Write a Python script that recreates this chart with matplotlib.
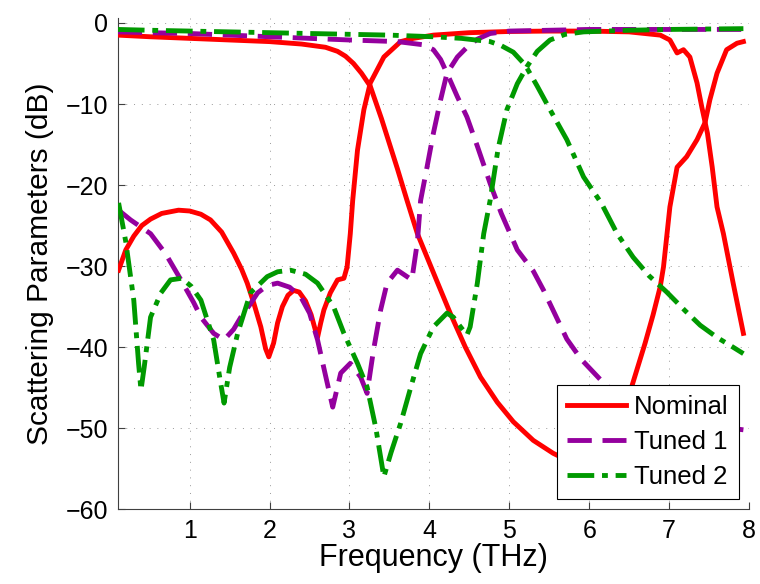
import matplotlib.pyplot as plt

plt.rcParams['font.family'] = ['Liberation Sans', 'DejaVu Sans']

# Nominal
nom_s21_f = [0.1, 0.5, 1.0, 1.5, 2.0, 2.4, 2.7, 2.85, 2.95, 3.05, 3.15, 3.26, 3.4, 3.6, 3.72, 3.85, 4.1,
             4.26, 4.45, 4.64, 4.85, 5.05, 5.3, 5.55, 5.8, 6.0, 6.2, 6.4, 6.55, 6.7, 6.8, 6.89, 6.93,
             7.01, 7.1, 7.22, 7.35, 7.45, 7.51, 7.6, 7.72, 7.85, 7.93]
nom_s21_db = [-1.5, -1.7, -1.9, -2.1, -2.3, -2.6, -3.0, -3.5, -4.1, -5.0, -6.2, -7.8, -11.8, -18.0, -21.9, -26.0, -32.0,
              -35.8, -40.0, -43.7, -46.8, -49.2, -51.5, -53.1, -54.3, -54.2, -52.6, -49.2, -44.3, -39.5, -36.0, -32.5, -30.1,
              -22.7, -17.8, -16.5, -14.4, -12.3, -9.5, -6.2, -3.3, -2.5, -2.3]
nom_s11_f = [0.11, 0.2, 0.3, 0.4, 0.51, 0.65, 0.86, 1.0, 1.14, 1.26, 1.4, 1.55, 1.65, 1.72, 1.8, 1.89, 1.95,
             1.99, 2.05, 2.1, 2.16, 2.23, 2.3, 2.37, 2.45, 2.52, 2.57, 2.6, 2.64, 2.68, 2.76, 2.85, 2.93,
             2.97, 3.01, 3.04, 3.1, 3.18, 3.26, 3.43, 3.64, 3.8, 4.05, 4.5, 5.0, 5.5, 6.0, 6.5, 6.89,
             7.01, 7.1, 7.18, 7.26, 7.35, 7.41, 7.48, 7.54, 7.6, 7.68, 7.8, 7.93]
nom_s11_db = [-30.5, -28.0, -26.3, -25.0, -24.2, -23.5, -23.1, -23.2, -23.6, -24.3, -25.8, -28.4, -30.4, -32.1, -34.5, -37.5, -40.2,
              -41.2, -39.5, -37.0, -35.0, -33.6, -33.0, -33.2, -34.3, -36.0, -37.8, -38.8, -37.0, -35.4, -33.3, -31.7, -31.5,
              -30.1, -26.0, -21.9, -15.7, -10.7, -7.4, -4.2, -2.3, -1.9, -1.5, -1.2, -1.05, -1.0, -1.0, -1.1, -1.5,
              -2.1, -3.7, -3.3, -4.2, -7.4, -10.4, -13.6, -17.8, -22.7, -26.0, -32.0, -38.3]

# Tuned 1
t1_s21_f = [0.1, 0.5, 1.0, 1.5, 2.0, 2.5, 3.0, 3.6, 3.93, 4.05, 4.14, 4.22, 4.35, 4.47, 4.6, 4.76, 4.9,
            5.1, 5.3, 5.43, 5.72, 5.9, 6.14, 6.4, 6.7, 7.0, 7.3, 7.6, 7.93]
t1_s21_db = [-1.1, -1.2, -1.3, -1.5, -1.7, -1.9, -2.1, -2.3, -2.7, -3.3, -4.5, -6.2, -9.1, -11.6, -15.2, -19.8, -23.5,
             -28.0, -30.6, -33.0, -39.0, -41.5, -44.0, -46.3, -48.0, -49.0, -49.5, -49.8, -50.2]
t1_s11_f = [0.11, 0.26, 0.51, 0.7, 0.89, 1.05, 1.14, 1.3, 1.43, 1.55, 1.64, 1.75, 1.85, 1.97, 2.1, 2.25, 2.39,
            2.5, 2.6, 2.7, 2.79, 2.89, 3.01, 3.14, 3.22, 3.3, 3.39, 3.47, 3.6, 3.72, 3.78, 3.85, 3.89,
            3.97, 4.05, 4.14, 4.22, 4.35, 4.47, 4.6, 4.76, 5.0, 5.5, 6.0, 7.0, 7.93]
t1_s11_db = [-23.1, -24.3, -26.0, -28.5, -31.7, -34.5, -36.3, -38.3, -39.1, -37.8, -36.3, -34.8, -33.3, -32.4, -32.1, -32.6, -33.8,
             -35.8, -39.1, -43.5, -47.4, -43.2, -42.0, -43.7, -45.7, -40.4, -35.4, -32.1, -30.5, -31.3, -31.7, -27.0, -21.9,
             -17.8, -13.6, -9.5, -6.2, -4.2, -3.0, -2.0, -1.3, -1.0, -0.9, -0.8, -0.8, -0.8]

# Tuned 2
t2_s21_f = [0.1, 0.5, 1.0, 1.5, 2.0, 2.5, 3.0, 3.5, 4.05, 4.4, 4.76, 4.9, 5.05, 5.2, 5.35, 5.51, 5.72,
            5.93, 6.15, 6.35, 6.55, 6.75, 6.97, 7.2, 7.39, 7.6, 7.8, 7.93]
t2_s21_db = [-0.8, -0.9, -1.0, -1.1, -1.2, -1.3, -1.4, -1.5, -1.7, -1.9, -2.3, -2.8, -3.6, -5.2, -7.8, -10.7, -14.4,
             -19.0, -22.2, -26.0, -28.9, -31.2, -33.2, -35.5, -37.3, -38.8, -40.0, -40.8]
t2_s11_f = [0.11, 0.2, 0.3, 0.36, 0.39, 0.43, 0.51, 0.64, 0.76, 0.9, 1.02, 1.14, 1.3, 1.38, 1.43, 1.5, 1.6,
            1.76, 1.97, 2.1, 2.26, 2.45, 2.6, 2.8, 2.93, 3.1, 3.22, 3.33, 3.43, 3.52, 3.64, 3.78, 3.89,
            4.05, 4.22, 4.3, 4.39, 4.47, 4.51, 4.6, 4.68, 4.76, 4.86, 4.97, 5.1, 5.22, 5.35, 5.51, 5.7,
            5.93, 6.5, 7.0, 7.93]
t2_s11_db = [-22.2, -27.0, -34.2, -42.0, -45.3, -42.5, -36.3, -33.3, -31.7, -31.5, -32.5, -34.2, -39.1, -44.0, -46.9, -42.5, -38.3,
             -33.3, -31.3, -30.7, -30.5, -31.0, -32.1, -35.0, -38.3, -42.0, -44.9, -50.0, -56.0, -53.0, -49.4, -44.5, -40.8,
             -37.5, -35.8, -36.3, -37.5, -38.5, -37.5, -32.1, -26.0, -21.9, -15.5, -10.7, -7.5, -5.4, -3.5, -2.1, -1.4,
             -1.1, -0.9, -0.8, -0.7]

xticks = [1, 2, 3, 4, 5, 6, 7, 8]
yticks = [-60, -50, -40, -30, -20, -10, 0]

red = (1.0, 0.0, 0.0)
purple = (0.58, 0.0, 0.62)
green = (0.0, 0.6, 0.0)
lw = 3.5
dash = (5.0, 2.2)
dashdot = (5.5, 1.6, 1.2, 1.6)

fig = plt.figure(figsize=(7.6, 5.84), dpi=100)
ax = fig.add_axes([0.155, 0.128, 0.8305, 0.841])

ax.plot(nom_s21_f, nom_s21_db, color=red, lw=lw, label='Nominal', zorder=3)
ax.plot(nom_s11_f, nom_s11_db, color=red, lw=lw, zorder=3)
ax.plot(t1_s21_f, t1_s21_db, color=purple, lw=lw, dashes=dash, label='Tuned 1', zorder=4)
ax.plot(t1_s11_f, t1_s11_db, color=purple, lw=lw, dashes=dash, zorder=4)
ax.plot(t2_s21_f, t2_s21_db, color=green, lw=lw, dashes=dashdot, label='Tuned 2', zorder=5)
ax.plot(t2_s11_f, t2_s11_db, color=green, lw=lw, dashes=dashdot, zorder=5)

ax.set_xlim(0.1, 8)
ax.set_ylim(-60, 0.6)
ax.set_xticks(xticks)
ax.set_yticks(yticks)
ax.set_yticklabels(['\u221260', '\u221250', '\u221240', '\u221230', '\u221220', '\u221210', '0'])

ax.spines['top'].set_visible(False)
ax.spines['right'].set_visible(False)
for s in ['left', 'bottom']:
    ax.spines[s].set_color(3*[0.25])
ax.tick_params(direction='in', length=5, width=0.8, labelsize=18, pad=7, color=3*[0.25])
ax.grid(True, linestyle=(0, (1, 7)), linewidth=0.7, color=3*[0.6])
ax.set_axisbelow(True)

ax.set_xlabel('Frequency (THz)', fontsize=22, labelpad=0)
ax.set_ylabel('Scattering Parameters (dB)', fontsize=21.5, labelpad=8)

leg = ax.legend(loc='lower right', fontsize=18.5, handlelength=2.3, borderaxespad=0.4,
                fancybox=False, framealpha=1, edgecolor='k', borderpad=0.4, labelspacing=0.42,
                handletextpad=0.3)
leg.get_frame().set_linewidth(0.8)
leg.set_zorder(10)

plt.savefig('out.png', dpi=100)
